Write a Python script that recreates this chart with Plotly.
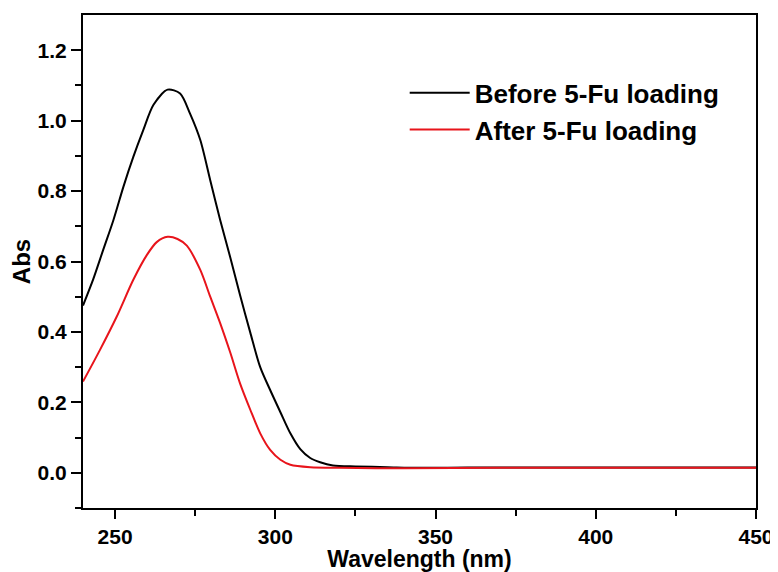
import plotly.graph_objects as go

wl_before = [240, 243.2, 246.3, 249.5, 252.6, 255.7, 258.8, 262, 266.4, 270.3, 273.4, 276.6,
             279.7, 282.8, 286, 289, 292.2, 295.3, 298.4, 301.6, 304.7, 307.8, 310.9, 314, 318,
             325, 335, 345, 360, 380, 400, 420, 450]
abs_before = [0.475, 0.55, 0.633, 0.718, 0.812, 0.897, 0.973, 1.045, 1.088, 1.077, 1.02, 0.945,
              0.831, 0.718, 0.610, 0.505, 0.398, 0.300, 0.235, 0.172, 0.112, 0.067, 0.042, 0.030, 0.021,
              0.018, 0.016, 0.014, 0.015, 0.015, 0.015, 0.015, 0.015]

wl_after = [240, 245.3, 250.5, 255.7, 259.9, 263, 266.4, 269.5, 272.4, 276.6, 279.7, 282.8, 286,
            289, 292.2, 295.3, 298.4, 301.6, 304.7, 310.9, 320, 340, 370, 400, 430, 450]
abs_after = [0.259, 0.349, 0.443, 0.548, 0.618, 0.655, 0.670, 0.664, 0.645, 0.576, 0.5, 0.425, 0.34,
             0.254, 0.179, 0.112, 0.065, 0.037, 0.023, 0.016, 0.014, 0.013, 0.014, 0.014, 0.014, 0.014]

FONT = "Liberation Sans, Arial, sans-serif"

fig = go.Figure()
fig.add_trace(go.Scatter(x=wl_before, y=abs_before, mode="lines", name="Before 5-Fu loading",
                         line=dict(color="black", width=2, shape="spline", smoothing=0.8)))
fig.add_trace(go.Scatter(x=wl_after, y=abs_after, mode="lines", name="After 5-Fu loading",
                         line=dict(color="#e8141b", width=2, shape="spline", smoothing=0.8)))

axis_common = dict(showline=True, linecolor="black", linewidth=2, mirror=True,
                   ticks="outside", tickwidth=2, tickcolor="black",
                   showgrid=False, zeroline=False, automargin=False,
                   tickfont=dict(family=FONT, size=21, color="black", weight="bold"))

fig.update_layout(
    width=770, height=564,
    margin=dict(l=75, r=22, t=7, b=64),
    paper_bgcolor="white", plot_bgcolor="white",
    font=dict(family=FONT, color="black"),
    xaxis=dict(range=[240, 450], tickvals=[250, 300, 350, 400, 450], ticklen=9,
               minor=dict(tickvals=[275, 325, 375, 425], ticks="outside", ticklen=6, tickwidth=2, tickcolor="black"),
               title=dict(text="Wavelength (nm)", standoff=0,
                          font=dict(family=FONT, size=23, color="black", weight="bold")),
               **axis_common),
    yaxis=dict(range=[-0.1, 1.3], tickvals=[0.0, 0.2, 0.4, 0.6, 0.8, 1.0, 1.2], tickformat=".1f", ticklen=10,
               minor=dict(tickvals=[-0.1, 0.1, 0.3, 0.5, 0.7, 0.9, 1.1], ticks="outside", ticklen=6, tickwidth=2, tickcolor="black"),
               title=dict(text="Abs", standoff=8,
                          font=dict(family=FONT, size=24, color="black", weight="bold")),
               **axis_common),
    legend=dict(x=0.478, y=0.89, xanchor="left", yanchor="top", bgcolor="rgba(0,0,0,0)",
                font=dict(family=FONT, size=26, color="black", weight="bold"),
                itemwidth=60, tracegroupgap=0),
)

fig.write_html("out.html")
